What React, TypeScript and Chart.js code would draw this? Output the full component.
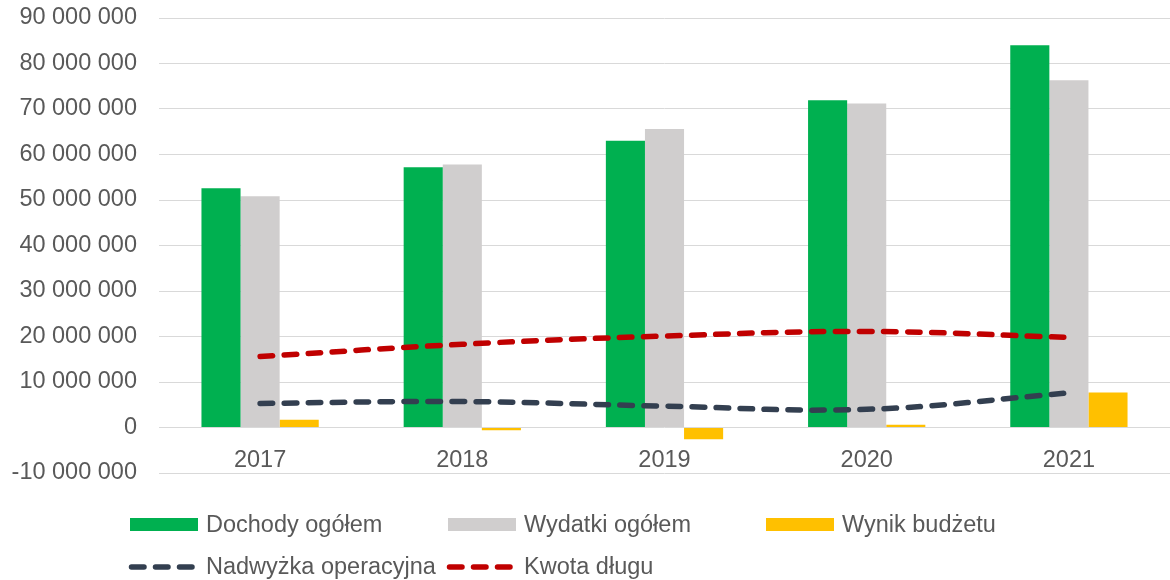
import { useEffect, useRef } from 'react';
import { Chart, registerables } from 'chart.js';

Chart.register(...registerables);

const categories = ['2017', '2018', '2019', '2020', '2021'];
const dochodyOgolem = [52600000, 57200000, 63000000, 71900000, 84000000];
const wydatkiOgolem = [50800000, 57800000, 65600000, 71200000, 76300000];
const wynikBudzetu = [1700000, -600000, -2600000, 600000, 7700000];
const nadwyzkaOperacyjna = [5300000, 5700000, 4700000, 4000000, 7600000];
const kwotaDlugu = [15600000, 18300000, 20100000, 21100000, 19800000];
const yMin = -10000000;
const yMax = 90000000;
const yStep = 10000000;

const FONT = '"Liberation Sans", Arial, sans-serif';
const FONT_SIZE = 23.5;
const TEXT = '#595959';
const GRID = '#d9d9d9';

const fmt = (v: number) => {
  const s = Math.abs(Math.round(v)).toString().replace(/\B(?=(\d{3})+(?!\d))/g, ' ');
  return v < 0 ? '-' + s : s;
};

const legendCols = [129, 447, 765];
const legendRows = [524.5, 567];
const sampleW = 68;
const textGap = 9;

const gridLegend = {
  id: 'gridLegend',
  afterDraw(chart: any) {
    const ctx = chart.ctx as CanvasRenderingContext2D;
    ctx.save();
    ctx.font = `${FONT_SIZE}px ${FONT}`;
    ctx.textBaseline = 'middle';
    ctx.textAlign = 'left';
    chart.data.datasets.forEach((ds: any, i: number) => {
      const x0 = legendCols[i % 3];
      const y = legendRows[Math.floor(i / 3)];
      if (ds.type === 'line') {
        ctx.save();
        ctx.strokeStyle = ds.borderColor;
        ctx.lineWidth = ds.borderWidth;
        ctx.lineCap = 'round';
        ctx.setLineDash(ds.borderDash);
        ctx.beginPath();
        ctx.moveTo(x0 + 2.5, y);
        ctx.lineTo(x0 + sampleW - 4, y);
        ctx.stroke();
        ctx.restore();
      } else {
        ctx.fillStyle = ds.backgroundColor;
        ctx.fillRect(x0 + 1, y - 6.5, sampleW, 13);
      }
      ctx.fillStyle = TEXT;
      ctx.fillText(ds.label, x0 + sampleW + textGap, y + 1);
    });
    ctx.restore();
  },
};

export default function App() {
  const ref = useRef<HTMLCanvasElement | null>(null);

  useEffect(() => {
    if (!ref.current) return;
    const chart = new Chart(ref.current, {
      type: 'bar',
      data: {
        labels: categories,
        datasets: [
          { type: 'bar', label: 'Dochody ogółem', data: dochodyOgolem, backgroundColor: '#00b050', order: 2 },
          { type: 'bar', label: 'Wydatki ogółem', data: wydatkiOgolem, backgroundColor: '#d0cece', order: 2 },
          { type: 'bar', label: 'Wynik budżetu', data: wynikBudzetu, backgroundColor: '#ffc000', order: 2 },
          {
            type: 'line', label: 'Nadwyżka operacyjna', data: nadwyzkaOperacyjna,
            borderColor: '#333f50', backgroundColor: '#333f50', borderWidth: 5.5,
            borderDash: [12.5, 11.5], borderCapStyle: 'round', pointRadius: 0, tension: 0.4, fill: false, order: 1,
          },
          {
            type: 'line', label: 'Kwota długu', data: kwotaDlugu,
            borderColor: '#c00000', backgroundColor: '#c00000', borderWidth: 5.5,
            borderDash: [12.5, 11.5], borderCapStyle: 'round', pointRadius: 0, tension: 0.4, fill: false, order: 0,
          },
        ] as any,
      },
      options: {
        animation: false,
        responsive: true,
        maintainAspectRatio: false,
        layout: { padding: { top: 18, right: -3, bottom: 107, left: 0 } },
        datasets: { bar: { categoryPercentage: 0.58, barPercentage: 1 } },
        plugins: { legend: { display: false }, tooltip: { enabled: false } },
        scales: {
          x: {
            grid: { display: false },
            border: { display: false },
            ticks: { color: TEXT, font: { family: FONT, size: FONT_SIZE }, padding: -35, autoSkip: false, maxRotation: 0 },
          },
          y: {
            min: yMin,
            max: yMax,
            grid: { color: GRID, lineWidth: 1, drawTicks: false },
            border: { display: false },
            ticks: {
              stepSize: yStep,
              color: TEXT,
              font: { family: FONT, size: FONT_SIZE },
              padding: 22,
              callback: (v: any) => fmt(Number(v)),
            },
            afterFit: (s: any) => {
              s.width = 159;
              s.paddingTop = 0;
              s.paddingBottom = 0;
            },
          },
        },
      } as any,
      plugins: [gridLegend],
    });
    return () => chart.destroy();
  }, []);

  return (
    <div style={{ position: 'absolute', left: 0, top: 0, width: 1170, height: 580 }}>
      <canvas ref={ref} />
    </div>
  );
}
